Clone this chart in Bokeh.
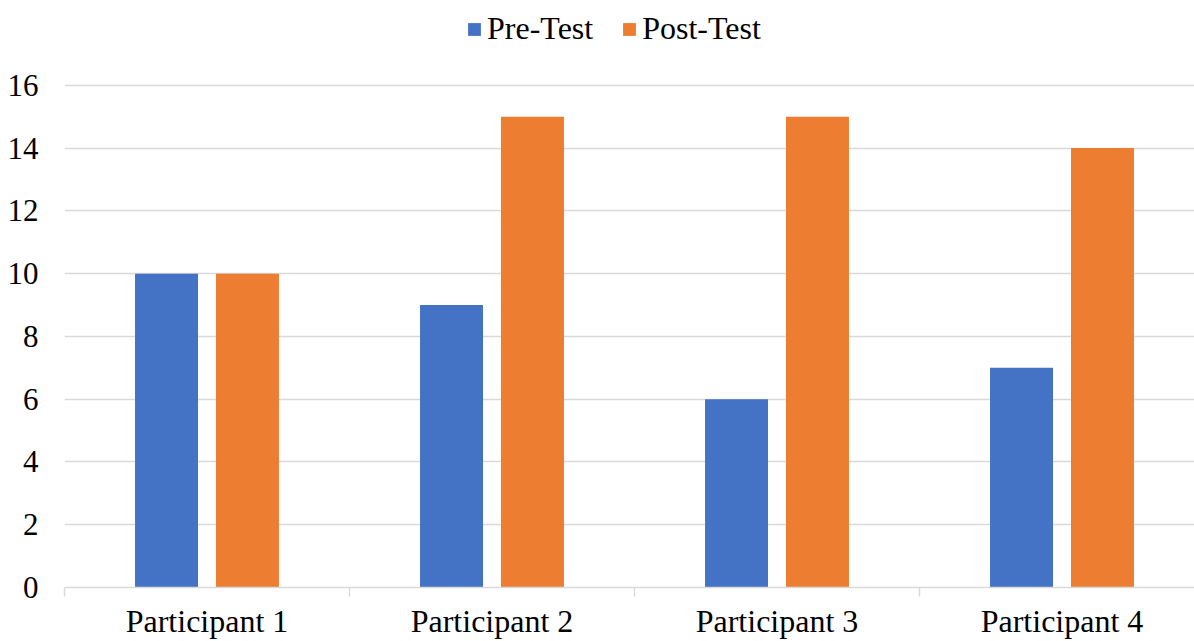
from bokeh.plotting import figure
from bokeh.models import FixedTicker, Legend, LegendItem, Range1d, ColumnDataSource
from bokeh.embed import file_html
from bokeh.resources import INLINE

categories = ["Participant 1", "Participant 2", "Participant 3", "Participant 4"]
pre_test = [10, 9, 6, 7]
post_test = [10, 15, 15, 14]
series_names = ["Pre-Test", "Post-Test"]
y_ticks = [0, 2, 4, 6, 8, 10, 12, 14, 16]

FONT = "'Liberation Serif', 'Times New Roman', serif"
BLUE = "#4472C4"
ORANGE = "#ED7D31"
GRID = "#D9D9D9"

centers = [i + 0.5 for i in range(len(categories))]
offset = 0.142
bw = 0.221

src = ColumnDataSource(dict(
    x_pre=[c - offset for c in centers],
    x_post=[c + offset for c in centers],
    pre=pre_test,
    post=post_test,
))

p = figure(width=1194, height=641, output_backend="svg", toolbar_location=None,
           x_range=Range1d(0, (1194 - 64) / 285.0), y_range=Range1d(0, 588 / 31.44))
p.min_border_left = 64
p.min_border_right = 0
p.min_border_top = 0
p.min_border_bottom = 53
p.outline_line_color = None
p.background_fill_color = "white"
p.border_fill_color = "white"

r1 = p.vbar(x="x_pre", top="pre", width=bw, bottom=0, source=src, color=BLUE, line_color=None)
r2 = p.vbar(x="x_post", top="post", width=bw, bottom=0, source=src, color=ORANGE, line_color=None)

# y axis
p.yaxis.ticker = FixedTicker(ticks=y_ticks)
p.yaxis.axis_line_color = None
p.yaxis.major_tick_line_color = None
p.yaxis.minor_tick_line_color = None
p.yaxis.major_tick_out = 0
p.yaxis.major_tick_in = 0
p.yaxis.minor_tick_out = 0
p.yaxis.major_label_text_font = FONT
p.yaxis.major_label_text_font_size = "31px"
p.yaxis.major_label_text_color = "black"
p.yaxis.major_label_standoff = 26
p.ygrid.ticker = FixedTicker(ticks=y_ticks)
p.ygrid.grid_line_color = GRID
p.ygrid.grid_line_width = 1.5
p.xgrid.grid_line_color = None

# x axis
p.xaxis.ticker = FixedTicker(ticks=centers, minor_ticks=list(range(len(categories) + 1)))
p.xaxis.major_label_overrides = {c: lab for c, lab in zip(centers, categories)}
p.xaxis.major_tick_line_color = None
p.xaxis.minor_tick_line_color = GRID
p.xaxis.minor_tick_line_width = 1.5
p.xaxis.minor_tick_out = 9
p.xaxis.minor_tick_in = 0
p.xaxis.major_tick_out = 0
p.xaxis.major_tick_in = 0
p.xaxis.axis_line_color = GRID
p.xaxis.axis_line_width = 1.5
p.xaxis.major_label_text_font = FONT
p.xaxis.major_label_text_font_size = "32px"
p.xaxis.major_label_text_color = "black"
p.xaxis.major_label_standoff = 6

legend = Legend(items=[LegendItem(label=series_names[0], renderers=[r1]),
                       LegendItem(label=series_names[1], renderers=[r2])],
                orientation="horizontal", location=(402, 540),
                label_text_font=FONT, label_text_font_size="32px", label_text_color="black",
                glyph_width=16, glyph_height=16, label_standoff=5, spacing=28,
                padding=0, margin=0, border_line_color=None, background_fill_alpha=0)
p.add_layout(legend, "center")

open("out.html", "w").write(file_html(p, INLINE))
